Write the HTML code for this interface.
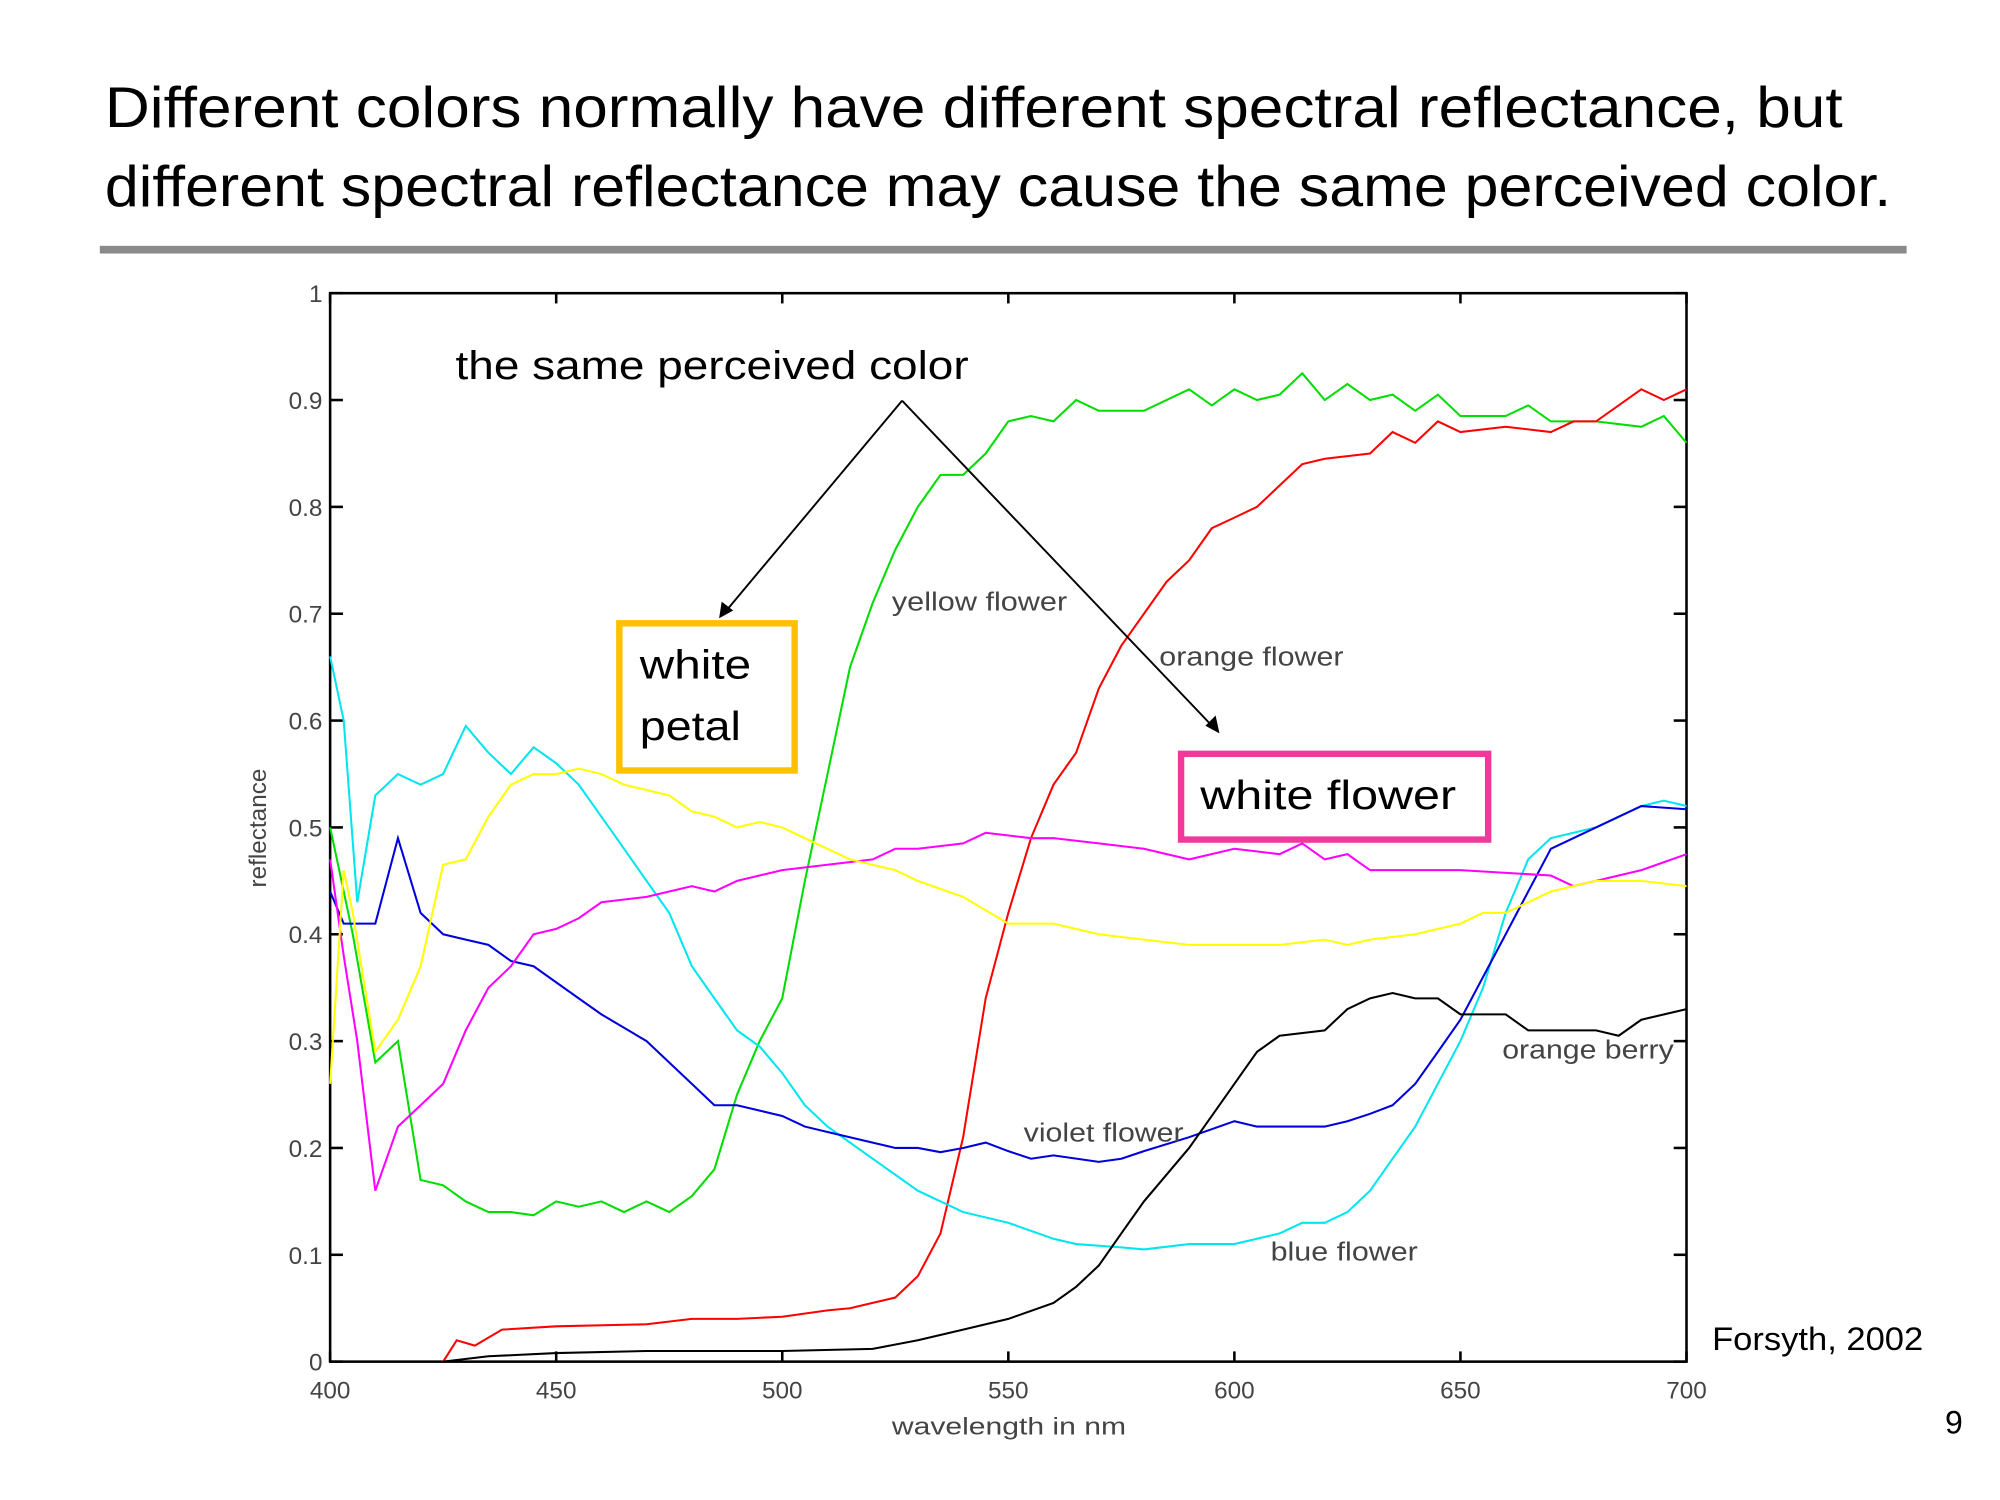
<!DOCTYPE html>
<html><head><meta charset="utf-8"><style>
html,body{margin:0;padding:0;background:#fff;}
svg{display:block}
</style></head><body>
<svg id="s" width="2000" height="1500" viewBox="0 0 1563 1172" xmlns="http://www.w3.org/2000/svg" font-family="'Liberation Sans', sans-serif">
<rect width="1563" height="1172" fill="#fff"/>
<text x="82" y="99" font-size="45" fill="#000" textLength="1358" lengthAdjust="spacingAndGlyphs">Different colors normally have different spectral reflectance, but</text>
<text x="82" y="161" font-size="45" fill="#000" textLength="1396" lengthAdjust="spacingAndGlyphs">different spectral reflectance may cause the same perceived color.</text>
<rect x="78" y="192" width="1412" height="6" fill="#8a8a8a"/>
<g id="axes"></g>
<g id="series" fill="none" stroke-width="1.6"></g>
<g font-size="20" fill="#444" lengthAdjust="spacingAndGlyphs">
<text x="697" y="477" textLength="137" lengthAdjust="spacingAndGlyphs">yellow flower</text>
<text x="906" y="520" textLength="144" lengthAdjust="spacingAndGlyphs">orange flower</text>
<text x="800" y="892" textLength="125" lengthAdjust="spacingAndGlyphs">violet flower</text>
<text x="993" y="985" textLength="115" lengthAdjust="spacingAndGlyphs">blue flower</text>
<text x="1174" y="827" textLength="134" lengthAdjust="spacingAndGlyphs">orange berry</text>
</g>
<text x="356" y="296" font-size="31" fill="#000" textLength="401" lengthAdjust="spacingAndGlyphs">the same perceived color</text>
<g stroke="#000" stroke-width="1.5" fill="#000">
<line x1="705" y1="313" x2="566" y2="479"/>
<line x1="705" y1="313" x2="949" y2="569"/>
<polygon points="562,483 564,470 573,477" stroke="none"/>
<polygon points="953,573 942,567 950,559" stroke="none"/>
</g>
<rect x="484" y="487" width="137" height="115" fill="none" stroke="#FFC000" stroke-width="5"/>
<text x="500" y="530" font-size="32" textLength="87" lengthAdjust="spacingAndGlyphs">white</text>
<text x="500" y="578" font-size="32" textLength="79" lengthAdjust="spacingAndGlyphs">petal</text>
<rect x="923" y="589" width="240" height="67" fill="none" stroke="#F0399A" stroke-width="5"/>
<text x="938" y="632" font-size="32" textLength="200" lengthAdjust="spacingAndGlyphs">white flower</text>
<text x="1338" y="1055" font-size="25" textLength="165" lengthAdjust="spacingAndGlyphs">Forsyth, 2002</text>
<text x="1520" y="1120" font-size="25">9</text>
</svg>
<script>
var X=function(n){return 258+(n-400)*(1060/300)}, Y=function(v){return 1064-v*835};
var ns="http://www.w3.org/2000/svg";
function el(t,a,p,txt){var e=document.createElementNS(ns,t);for(var k in a)e.setAttribute(k,a[k]);if(txt!=null)e.textContent=txt;p.appendChild(e);return e;}
var ax=document.getElementById('axes');
el('rect',{x:258,y:229,width:1060,height:835,fill:'none',stroke:'#000','stroke-width':2},ax);
for(var i=0;i<=6;i++){var n=400+i*50,x=X(n);
 el('line',{x1:x,y1:1064,x2:x,y2:1056,stroke:'#000','stroke-width':2},ax);
 el('line',{x1:x,y1:229,x2:x,y2:237,stroke:'#000','stroke-width':2},ax);
 el('text',{x:x,y:1093,'font-size':19,fill:'#444','text-anchor':'middle'},ax,String(n));}
for(var j=0;j<=10;j++){var v=j/10,y=Y(v);
 el('line',{x1:258,y1:y,x2:268,y2:y,stroke:'#000','stroke-width':2},ax);
 el('line',{x1:1318,y1:y,x2:1308,y2:y,stroke:'#000','stroke-width':2},ax);
 el('text',{x:252,y:y+7,'font-size':19,fill:'#444','text-anchor':'end'},ax,j==0?'0':j==10?'1':v.toFixed(1));}
el('text',{x:697,y:1121,'font-size':19,fill:'#444',textLength:183,lengthAdjust:'spacingAndGlyphs'},ax,'wavelength in nm');
el('text',{x:0,y:0,'font-size':19,fill:'#444','text-anchor':'middle',transform:'translate(208,647) rotate(-90)'},ax,'reflectance');
var S={
'#00dd00':[400,.50,405,.40,410,.28,415,.30,420,.17,425,.165,430,.15,435,.14,440,.14,445,.137,450,.15,455,.145,460,.15,465,.14,470,.15,475,.14,480,.155,485,.18,490,.25,495,.30,500,.34,505,.45,510,.55,515,.65,520,.71,525,.76,530,.80,535,.83,540,.83,545,.85,550,.88,555,.885,560,.88,565,.90,570,.89,580,.89,590,.91,595,.895,600,.91,605,.90,610,.905,615,.925,620,.90,625,.915,630,.90,635,.905,640,.89,645,.905,650,.885,660,.885,665,.895,670,.88,680,.88,690,.875,695,.885,700,.86],
'#ff0000':[425,0,428,.02,432,.015,438,.03,450,.033,470,.035,480,.04,490,.04,500,.042,510,.048,515,.05,520,.055,525,.06,530,.08,535,.12,540,.21,545,.34,550,.42,555,.49,560,.54,565,.57,570,.63,575,.67,580,.70,585,.73,590,.75,595,.78,600,.79,605,.80,610,.82,615,.84,620,.845,630,.85,635,.87,640,.86,645,.88,650,.87,660,.875,670,.87,675,.88,680,.88,690,.91,695,.90,700,.91],
'#00e5ee':[400,.66,403,.60,406,.43,410,.53,415,.55,420,.54,425,.55,430,.595,435,.57,440,.55,445,.575,450,.56,455,.54,460,.51,465,.48,470,.45,475,.42,480,.37,485,.34,490,.31,495,.295,500,.27,505,.24,510,.22,520,.19,530,.16,540,.14,550,.13,560,.115,565,.11,575,.107,580,.105,590,.11,600,.11,610,.12,615,.13,620,.13,625,.14,630,.16,640,.22,650,.30,655,.35,660,.42,665,.47,670,.49,680,.50,690,.52,695,.525,700,.52],
'#0000dd':[400,.44,403,.41,410,.41,415,.49,420,.42,425,.40,430,.395,435,.39,440,.375,445,.37,450,.355,455,.34,460,.325,470,.30,475,.28,480,.26,485,.24,490,.24,495,.235,500,.23,505,.22,510,.215,520,.205,525,.20,530,.20,535,.196,540,.20,545,.205,550,.197,555,.19,560,.193,570,.187,575,.19,580,.197,590,.21,600,.225,605,.22,610,.22,620,.22,625,.225,630,.232,635,.24,640,.26,645,.29,650,.32,655,.36,660,.40,665,.44,670,.48,680,.50,690,.52,700,.517],
'#ff00ff':[400,.47,403,.38,406,.30,410,.16,415,.22,420,.24,425,.26,430,.31,435,.35,440,.37,445,.40,450,.405,455,.415,460,.43,470,.435,475,.44,480,.445,485,.44,490,.45,500,.46,510,.465,520,.47,525,.48,530,.48,540,.485,545,.495,555,.49,560,.49,570,.485,580,.48,590,.47,600,.48,610,.475,615,.485,620,.47,625,.475,630,.46,640,.46,650,.46,670,.455,675,.445,680,.45,690,.46,700,.475],
'#ffff00':[400,.26,403,.46,405,.42,410,.29,415,.32,420,.37,425,.465,430,.47,435,.51,440,.54,445,.55,450,.55,455,.555,460,.55,465,.54,470,.535,475,.53,480,.515,485,.51,490,.50,495,.505,500,.50,505,.49,510,.48,515,.47,525,.46,530,.45,540,.435,550,.41,560,.41,570,.40,580,.395,590,.39,600,.39,610,.39,620,.395,625,.39,630,.395,640,.40,650,.41,655,.42,660,.42,670,.44,680,.45,690,.45,700,.445],
'#000000':[425,0,435,.005,450,.008,470,.01,500,.01,520,.012,530,.02,540,.03,550,.04,560,.055,565,.07,570,.09,575,.12,580,.15,590,.20,595,.23,600,.26,605,.29,610,.305,620,.31,625,.33,630,.34,635,.345,640,.34,645,.34,650,.325,660,.325,665,.31,680,.31,685,.305,690,.32,700,.33]};
var g=document.getElementById('series');
for(var c in S){var d=S[c],p=[];for(var k=0;k<d.length;k+=2)p.push(X(d[k]).toFixed(1)+','+Y(d[k+1]).toFixed(1));
 el('polyline',{points:p.join(' '),stroke:c},g);}
</script>
</body></html>
